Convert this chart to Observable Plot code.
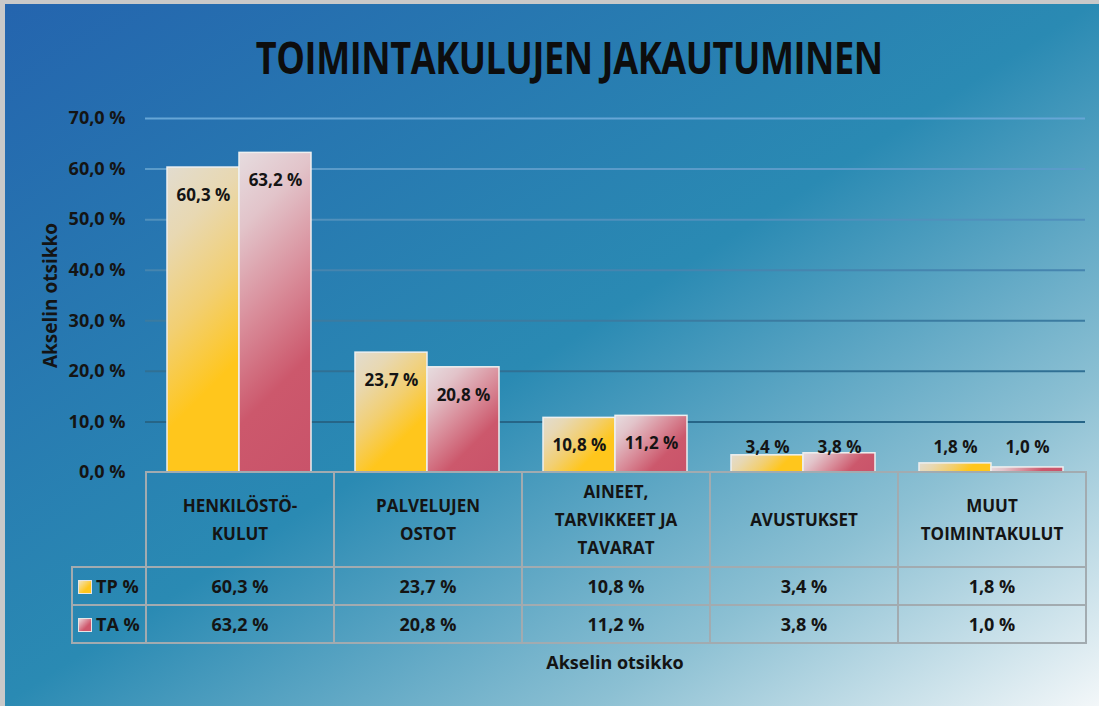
<!DOCTYPE html>
<html>
<head>
<meta charset="utf-8">
<script src="https://cdn.jsdelivr.net/npm/d3@7"></script>
<script src="https://cdn.jsdelivr.net/npm/@observablehq/plot@0.6"></script>
<style>
  body { margin: 0; }
  #chart {
    position: relative; width: 1099px; height: 706px; overflow: hidden;
    background: linear-gradient(to bottom right, #2464ae 0%, #2a8ab3 50%, #8cc0d3 77%, #f3f7f9 100%);
    font-family: "Open Sans", sans-serif; color: #141414;
  }
  #frame {
    position: absolute; left: 0; top: 0; width: 1099px; height: 706px; box-sizing: border-box;
    border-top: 4px solid #c9c9c9; border-left: 5px solid #c9c9c9; pointer-events: none; z-index: 5;
  }
  #title {
    position: absolute; left: 20px; width: 1099px; top: 27px; text-align: center;
    font-family: "Open Sans", sans-serif; font-weight: bold;
    font-size: 44px; line-height: 60px; color: #0d0d0d; white-space: nowrap;
  }
  #title span { display: inline-block; transform: scaleX(0.82); transform-origin: 50% 50%; letter-spacing: -0.5px; }
  #plot { position: absolute; left: 0; top: 0; }
  table.dt { position: absolute; border-collapse: collapse; table-layout: fixed; }
  table.dt td {
    border: 2px solid #a2abb0; text-align: center; vertical-align: middle;
    font-weight: bold; padding: 0; font-size: 18px; color: #141414;
  }
  table.dt td.corner { border-top: none; border-left: none; }
  table.dt td.hdr { line-height: 28px; font-size: 17px; }
  table.dt td.leg { text-align: left; padding-left: 5px; font-size: 18px; white-space: nowrap; }
  .sw { display: inline-block; width: 12px; height: 12px; margin-right: 4px; vertical-align: -1px; border: 1px solid #e6e6e6; }
  #xtitle { position: absolute; text-align: center; font-weight: bold; font-size: 18px; color: #141414; }
</style>
</head>
<body>
<div id="chart">
  <div id="title"><span></span></div>
  <div id="plot"></div>
  <div id="xtitle"></div>
  <div id="frame"></div>
</div>
<script>
// ---- data ----
const chartTitle = "TOIMINTAKULUJEN JAKAUTUMINEN";
const categories = ["HENKILÖSTÖ-KULUT", "PALVELUJEN OSTOT", "AINEET, TARVIKKEET JA TAVARAT", "AVUSTUKSET", "MUUT TOIMINTAKULUT"];
const categoryLines = [["HENKILÖSTÖ-", "KULUT"], ["PALVELUJEN", "OSTOT"], ["AINEET,", "TARVIKKEET JA", "TAVARAT"], ["AVUSTUKSET"], ["MUUT", "TOIMINTAKULUT"]];
const seriesNames = ["TP %", "TA %"];
const tpValues = [60.3, 23.7, 10.8, 3.4, 1.8];
const taValues = [63.2, 20.8, 11.2, 3.8, 1.0];
const yTicks = [0, 10, 20, 30, 40, 50, 60, 70];
const xAxisTitle = "Akselin otsikko";
const yAxisTitle = "Akselin otsikko";

// ---- styles ----
const barStops = [
  [[0, "#e2dccf"], [0.2, "#e8d8b2"], [0.45, "#f2cf72"], [0.7, "#ffc61c"], [1, "#ffc61c"]],
  [[0, "#e6dcdf"], [0.2, "#e2c4ca"], [0.45, "#d98e9b"], [0.7, "#cc586c"], [1, "#c9536a"]]
];
const swatchBg = [
  "linear-gradient(135deg, #f1e3bf 0%, #ffc61c 65%)",
  "linear-gradient(135deg, #ecd6da 0%, #cf566b 65%)"
];

const fmt = v => v.toFixed(1).replace(".", ",") + " %";
const rows = categories.map((c, i) => ({category: c, tp: tpValues[i], ta: taValues[i]}));

document.querySelector("#title span").textContent = chartTitle;

const W = 1099, H = 480, ML = 145, MR = 14, MT = 118, MB = 8;
const padIn = 0.234, padOut = 0.117;
const bw = (W - ML - MR) / categories.length * (1 - padIn);
const textStyle = {fontSize: 17, fontWeight: "bold", fill: "#141414"};

const plot = Plot.plot({
  width: W, height: H,
  marginLeft: ML, marginRight: MR, marginTop: MT, marginBottom: MB,
  style: {background: "transparent", fontFamily: "'Open Sans', sans-serif", color: "#141414", overflow: "visible"},
  x: {type: "band", domain: categories, paddingInner: padIn, paddingOuter: padOut, axis: null},
  y: {domain: [0, 70]},
  color: {type: "identity"},
  marks: [
    Plot.ruleY(yTicks.filter(t => t > 0), {stroke: t => d3.interpolateRgb("#1b5a7a", "#66a6d6")(t / 70), strokeWidth: 2}),
    Plot.barY(rows, {x: "category", y: "tp", insetRight: bw / 2, fill: "#ffc61c", stroke: "#eef0f0", strokeWidth: 1.5}),
    Plot.barY(rows, {x: "category", y: "ta", insetLeft: bw / 2, fill: "#c9536a", stroke: "#eef0f0", strokeWidth: 1.5}),
    Plot.text(rows, {x: "category", y: d => Math.max(d.tp, 10.4), dx: -bw / 4, dy: 28, text: d => fmt(d.tp), ...textStyle}),
    Plot.text(rows, {x: "category", y: d => Math.max(d.ta, 10.4), dx: bw / 4, dy: 28, text: d => fmt(d.ta), ...textStyle}),
    Plot.axisY({ticks: yTicks, tickFormat: fmt, tickSize: 0, tickPadding: 20, fontSize: 18, fontWeight: "bold",
      label: null}),
    Plot.axisY({ticks: [], tickSize: 0, fontSize: 19, fontWeight: "bold",
      label: yAxisTitle, labelAnchor: "center", labelOffset: 102, labelArrow: "none"})
  ]
});
document.getElementById("plot").appendChild(plot);

// per-bar diagonal gradients
const svg = d3.select(plot);
const defs = svg.insert("defs", ":first-child");
svg.selectAll('g[aria-label="bar"]').nodes().forEach((g, si) => {
  d3.select(g).selectAll("rect").each(function(_, i) {
    const r = d3.select(this);
    const x = +r.attr("x"), y = +r.attr("y"), w = +r.attr("width"), h = +r.attr("height");
    const id = `bargrad${si}_${i}`;
    const lg = defs.append("linearGradient").attr("id", id).attr("gradientUnits", "userSpaceOnUse")
      .attr("x1", x).attr("y1", y).attr("x2", x + (w + h) / 2).attr("y2", y + (w + h) / 2);
    barStops[si].forEach(([o, c]) => lg.append("stop").attr("offset", o).attr("stop-color", c));
    r.attr("fill", `url(#${id})`);
  });
});

// data table below the plot, aligned to the x scale
const xs = plot.scale("x");
const ys = plot.scale("y");
const step = xs.step;
const x0 = xs.apply(categories[0]) + xs.bandwidth / 2 - step / 2;
const yBase = ys.apply(0);
const legendW = 74;
const table = document.createElement("table");
table.className = "dt";
table.style.left = (x0 - legendW) + "px";
table.style.top = (yBase - 1) + "px";
const cg = document.createElement("colgroup");
[legendW, ...categories.map(() => step)].forEach(w => {
  const col = document.createElement("col"); col.style.width = w + "px"; cg.appendChild(col);
});
table.appendChild(cg);
table.style.width = (legendW + step * categories.length) + "px";

const hr = document.createElement("tr");
const corner = document.createElement("td"); corner.className = "corner"; hr.appendChild(corner);
categoryLines.forEach(lines => {
  const td = document.createElement("td"); td.className = "hdr"; td.style.height = "93px";
  lines.forEach((l, k) => { if (k) td.appendChild(document.createElement("br")); td.appendChild(document.createTextNode(l)); });
  hr.appendChild(td);
});
table.appendChild(hr);
[tpValues, taValues].forEach((vals, si) => {
  const tr = document.createElement("tr");
  const lg = document.createElement("td"); lg.className = "leg"; lg.style.height = "36px";
  const sw = document.createElement("span"); sw.className = "sw"; sw.style.background = swatchBg[si];
  lg.appendChild(sw); lg.appendChild(document.createTextNode(seriesNames[si]));
  tr.appendChild(lg);
  vals.forEach(v => { const td = document.createElement("td"); td.textContent = fmt(v); tr.appendChild(td); });
  table.appendChild(tr);
});
document.getElementById("chart").appendChild(table);

const xt = document.getElementById("xtitle");
xt.textContent = xAxisTitle;
xt.style.left = x0 + "px";
xt.style.width = (step * categories.length) + "px";
xt.style.top = "650px";
</script>
</body>
</html>
